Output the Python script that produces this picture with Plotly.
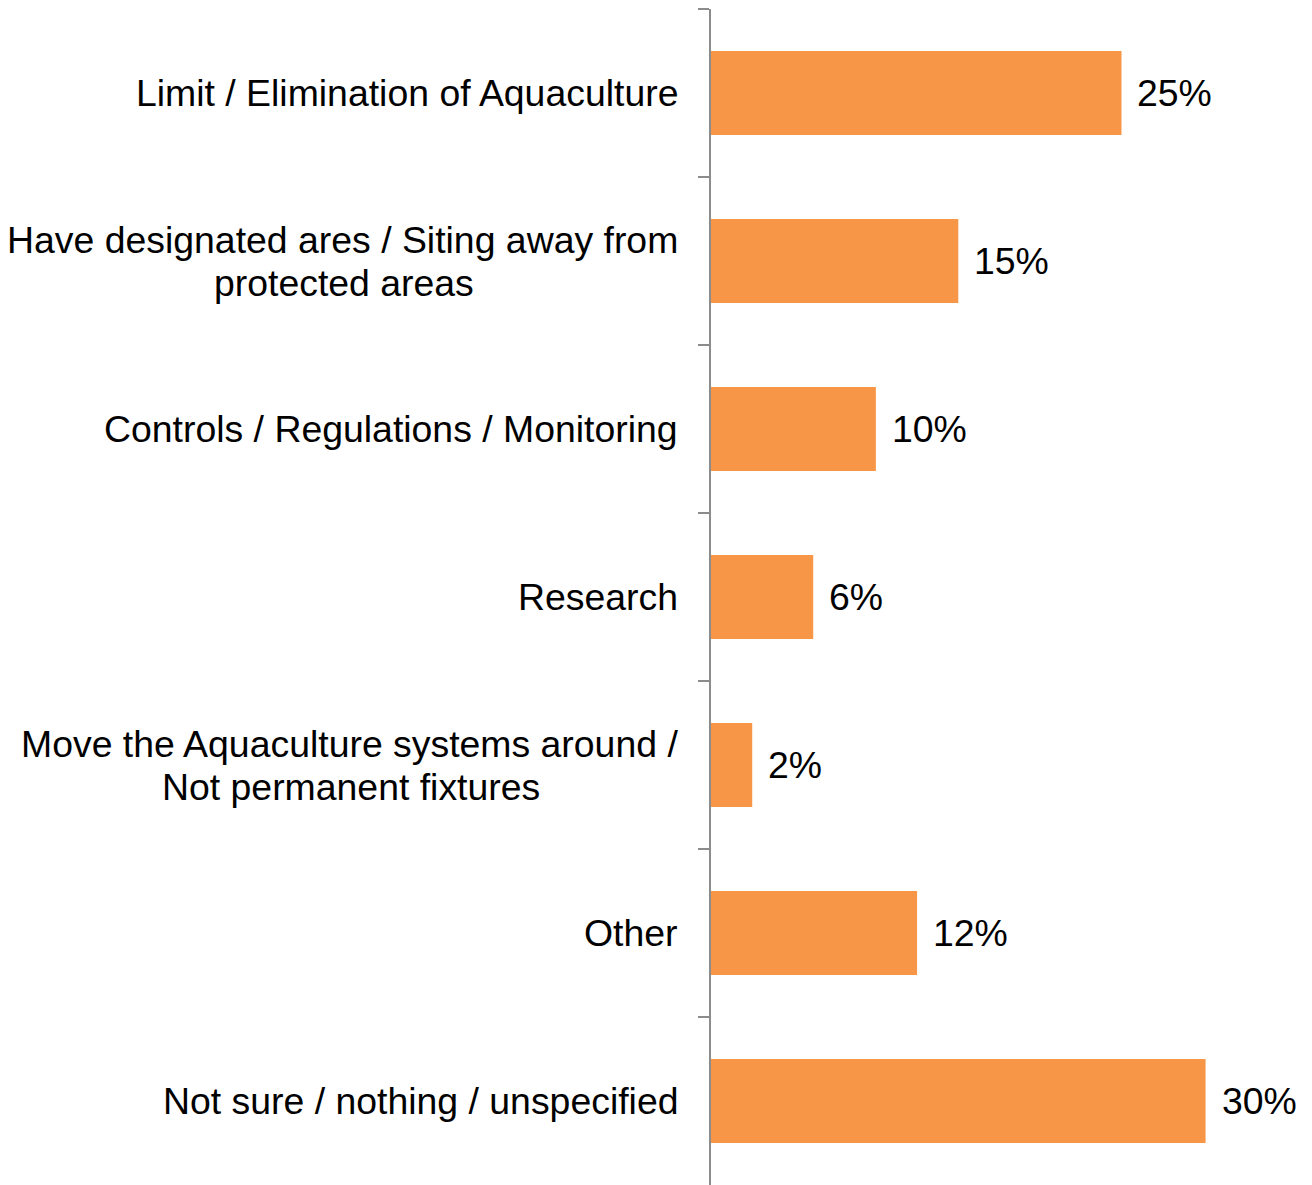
import plotly.graph_objects as go

categories = [
    "Limit / Elimination of Aquaculture",
    "Have designated ares / Siting away from<br>protected areas",
    "Controls / Regulations / Monitoring",
    "Research",
    "Move the Aquaculture systems around /<br>Not permanent fixtures",
    "Other",
    "Not sure / nothing / unspecified",
]
values = [24.9, 15.0, 10.0, 6.2, 2.5, 12.5, 30.0]
value_labels = ["25%", "15%", "10%", "6%", "2%", "12%", "30%"]

FONT = "Liberation Sans, Arial, sans-serif"
fs = 37.4
line_gap = 43        # px between label lines
label_gap = 31       # px from axis to right edge of labels
block_half = {1: 336, 4: 329}  # half width of two-line label blocks (px)

fig = go.Figure(
    go.Bar(
        x=values,
        y=list(range(len(categories))),
        orientation="h",
        width=0.5,
        marker=dict(color="#F79646", line=dict(width=0)),
        hoverinfo="skip",
    )
)

font = dict(family=FONT, size=fs, color="#000000")
annotations = []
for i, (cat, v, lab) in enumerate(zip(categories, values, value_labels)):
    lines = cat.split("<br>")
    n = len(lines)
    longest = max(range(n), key=lambda k: len(lines[k]))
    for k, line in enumerate(lines):
        yshift = ((n - 1) / 2 - k) * line_gap
        if k == longest:
            annotations.append(dict(
                x=0, xref="paper", y=i, yref="y", text=line, showarrow=False,
                xanchor="right", yanchor="middle", xshift=-label_gap,
                yshift=yshift, font=font,
            ))
        else:
            annotations.append(dict(
                x=0, xref="paper", y=i, yref="y", text=line, showarrow=False,
                xanchor="center", yanchor="middle",
                xshift=-label_gap - block_half.get(i, 330),
                yshift=yshift, font=font,
            ))
    annotations.append(dict(
        x=v, xref="x", y=i, yref="y", text=lab, showarrow=False,
        xanchor="left", yanchor="middle", xshift=14, font=font,
    ))

fig.update_layout(
    width=1304, height=1177,
    margin=dict(l=703, r=24, t=1, b=0),
    paper_bgcolor="white", plot_bgcolor="white",
    showlegend=False,
    xaxis=dict(visible=False, range=[0, 35]),
    yaxis=dict(
        type="linear",
        range=[6.5, -0.5],
        showgrid=False, zeroline=False,
        showline=True, linecolor="#8C8C8C", linewidth=2,
        ticks="outside", ticklen=11, tickcolor="#8C8C8C", tickwidth=2,
        tickmode="array", tickvals=[i - 0.5 for i in range(len(categories))],
        showticklabels=False,
    ),
    annotations=annotations,
)

fig.write_html("out.html")
